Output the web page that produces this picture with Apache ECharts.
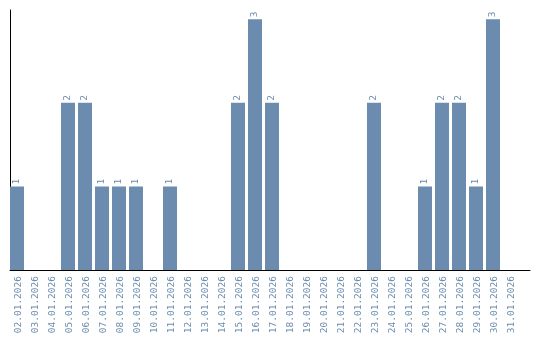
<!DOCTYPE html>
<html><head><meta charset="utf-8">
<script src="https://cdn.jsdelivr.net/npm/echarts@6/dist/echarts.min.js"></script>
<style>html,body{margin:0;padding:0;background:#fff}#c{width:540px;height:340px}</style>
</head><body><div id="c"></div>
<script>
const categories = ["02.01.2026","03.01.2026","04.01.2026","05.01.2026","06.01.2026","07.01.2026","08.01.2026","09.01.2026","10.01.2026","11.01.2026","12.01.2026","13.01.2026","14.01.2026","15.01.2026","16.01.2026","17.01.2026","18.01.2026","19.01.2026","20.01.2026","21.01.2026","22.01.2026","23.01.2026","24.01.2026","25.01.2026","26.01.2026","27.01.2026","28.01.2026","29.01.2026","30.01.2026","31.01.2026"];
const counts = [1,0,0,2,2,1,1,1,0,1,0,0,0,2,3,2,0,0,0,0,0,2,0,0,1,2,2,1,3,0];
const barColor = '#6b8cae';
const chart = echarts.init(document.getElementById('c'));
chart.setOption({
  animation:false,
  grid:[
    {left:10, top:10, width:510, bottom:70, containLabel:false},
    {left:10, top:10, width:520, bottom:70, containLabel:false}
  ],
  xAxis:[
    {type:'category', gridIndex:0, data:categories, boundaryGap:true,
     axisLine:{show:false},
     axisTick:{show:false},
     axisLabel:{rotate:90, interval:0, color:barColor, fontFamily:'DejaVu Sans Mono', fontSize:9.5, margin:6}},
    {type:'value', gridIndex:1, min:0, max:1,
     axisLine:{show:true, lineStyle:{color:'#000', width:1}},
     axisTick:{show:false}, axisLabel:{show:false}, splitLine:{show:false}}
  ],
  yAxis:[
    {type:'value', gridIndex:0, min:0, max:3.11,
     axisLine:{show:true, lineStyle:{color:'#000', width:1}},
     axisTick:{show:false}, axisLabel:{show:false}, splitLine:{show:false}},
    {type:'value', gridIndex:1, min:0, max:1, show:false}
  ],
  series:[
    {type:'bar', xAxisIndex:0, yAxisIndex:0, data:counts.map(v=>v===0?null:v), barWidth:14, barGap:'0%', barCategoryGap:'0%',
     itemStyle:{color:barColor},
     label:{show:true, position:'top', rotate:90, align:'left', verticalAlign:'middle', distance:2,
       color:barColor, fontFamily:'DejaVu Sans Mono', fontSize:9.5}},
    {type:'bar', xAxisIndex:0, yAxisIndex:0, data:counts.map(()=>null), barWidth:3, silent:true}
  ]
});
</script></body></html>
